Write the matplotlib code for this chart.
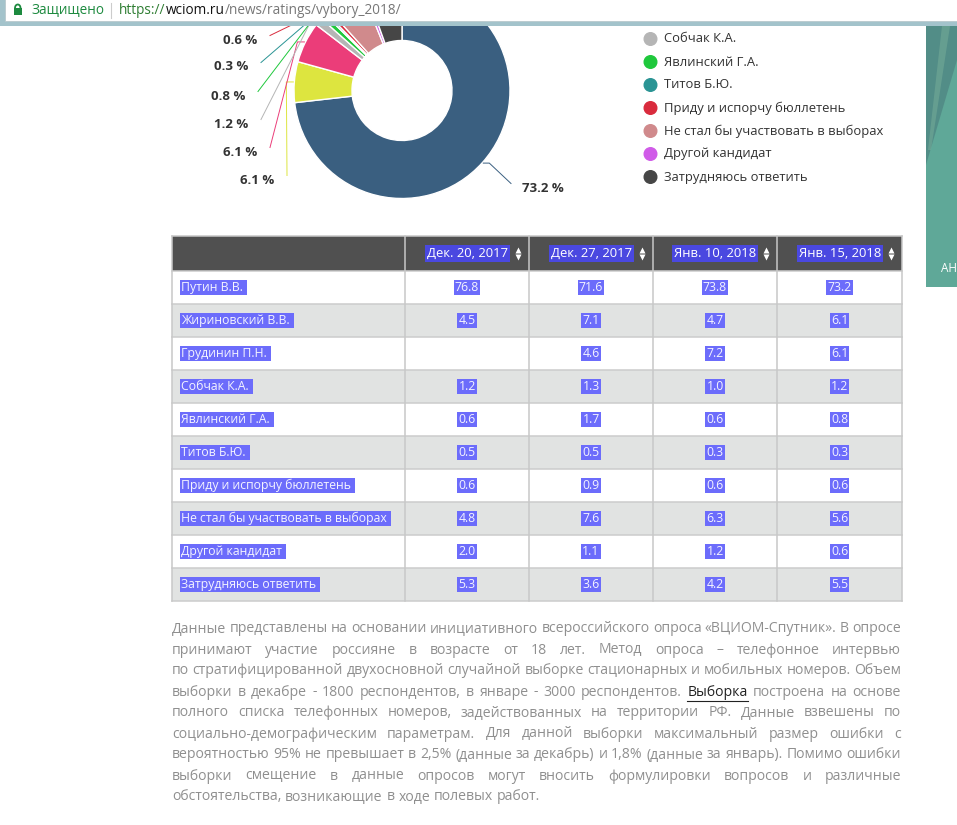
import matplotlib
matplotlib.use("Agg")
import matplotlib.pyplot as plt
import numpy as np
from matplotlib.patches import Rectangle, Circle, Polygon, Arc

plt.rcParams['font.family'] = ['Open Sans', 'DejaVu Sans']

# ---- data ----
rows = ["Путин В.В.", "Жириновский В.В.", "Грудинин П.Н.", "Собчак К.А.",
        "Явлинский Г.А.", "Титов Б.Ю.", "Приду и испорчу бюллетень",
        "Не стал бы участвовать в выборах", "Другой кандидат",
        "Затрудняюсь ответить"]
dates = ["Дек. 20, 2017", "Дек. 27, 2017", "Янв. 10, 2018", "Янв. 15, 2018"]
dec20 = [76.8, 4.5, None, 1.2, 0.6, 0.5, 0.6, 4.8, 2.0, 5.3]
dec27 = [71.6, 7.1, 4.6, 1.3, 1.7, 0.5, 0.9, 7.6, 1.1, 3.6]
jan10 = [73.8, 4.7, 7.2, 1.0, 0.6, 0.3, 0.6, 6.3, 1.2, 4.2]
jan15 = [73.2, 6.1, 6.1, 1.2, 0.8, 0.3, 0.6, 5.6, 0.6, 5.5]
colors = ["#3a5f80", "#dde53f", "#eb3d79", "#b5b5b5", "#1fc83c", "#2a9494",
          "#d92b3d", "#d08a8c", "#d05be8", "#464646"]

paragraph = [
    "Данные представлены на основании инициативного всероссийского опроса «ВЦИОМ-Спутник». В опросе",
    "принимают участие россияне в возрасте от 18 лет. Метод опроса – телефонное интервью",
    "по стратифицированной двухосновной случайной выборке стационарных и мобильных номеров. Объем",
    "выборки в декабре - 1800 респондентов, в январе - 3000 респондентов. Выборка построена на основе",
    "полного списка телефонных номеров, задействованных на территории РФ. Данные взвешены по",
    "социально-демографическим параметрам. Для данной выборки максимальный размер ошибки с",
    "вероятностью 95% не превышает в 2,5% (данные за декабрь) и 1,8% (данные за январь). Помимо ошибки",
    "выборки смещение в данные опросов могут вносить формулировки вопросов и различные",
    "обстоятельства, возникающие в ходе полевых работ.",
]

# ---- layout (pixels) ----
W, H = 957, 825
CX, CY, R, HOLE = 402, 90.5, 108, 50
# (slice index, label x, label y); left side labels are right-aligned
label_pos = [(0, 522, 188), (1, 274, 180), (2, 257, 152), (3, 248, 124),
             (4, 245, 96), (5, 248, 67), (6, 257, 40)]
col_x = [172, 405, 529, 653, 777, 902]
head_top, head_h, row_h = 236, 35, 33
BAR_H = 26

fig = plt.figure(figsize=(W / 100, H / 100), dpi=100)
ax = fig.add_axes([0, 0, 1, 1])
renderer = fig.canvas.get_renderer()


def width_of(t):
    return t.get_window_extent(renderer).width


# ---- donut ----
wedges, _ = ax.pie(jan15, colors=colors, radius=R, center=(CX, CY),
                   startangle=270, counterclock=True,
                   wedgeprops=dict(width=R - HOLE, edgecolor="white", linewidth=1))
ax.set_xlim(0, W)
ax.set_ylim(H, 0)
ax.set_aspect("auto")
ax.axis("off")
for w in wedges:
    w.set_zorder(1)

for idx, lx, ly in label_pos:
    w = wedges[idx]
    mid = np.radians((w.theta1 + w.theta2) / 2)
    ax_, ay_ = CX + (R + 1) * np.cos(mid), CY + (R + 1) * np.sin(mid)
    if lx > CX:
        ex, sx, ha = ax_ + 6, lx - 11, "left"
    else:
        ex, sx, ha = ax_ - 7, lx + 13, "right"
    ax.plot([ax_, ex, sx], [ay_, ay_, ly - 4.5], color=colors[idx], lw=0.7,
            zorder=1)
    ax.text(lx, ly, f"{jan15[idx]} %", ha=ha, va="center", fontsize=9.5,
            fontweight="bold", color="#333333", zorder=2)

# ---- legend (top entries are hidden under the address bar) ----
for i, (name, c) in enumerate(zip(rows, colors)):
    y = 39 + 23 * (i - 3)
    if y < BAR_H:
        continue
    ax.add_patch(Circle((650.5, y), 6.3, color=c, zorder=2))
    ax.text(664, y, name, ha="left", va="center", fontsize=9.4,
            color="#333333", zorder=2)

# ---- table ----
ax.add_patch(Rectangle((col_x[0], head_top), col_x[-1] - col_x[0], head_h,
                       facecolor="#505050", edgecolor="none", zorder=1))
body_top = head_top + head_h
for r in range(len(rows)):
    fc = "white" if r % 2 == 0 else "#e1e3e2"
    ax.add_patch(Rectangle((col_x[0], body_top + r * row_h),
                           col_x[-1] - col_x[0], row_h, facecolor=fc,
                           edgecolor="none", zorder=1))
bottom = body_top + len(rows) * row_h
for r in range(len(rows) + 1):
    y = body_top + r * row_h
    ax.plot([col_x[0], col_x[-1]], [y, y], color="#cccccc", lw=1.1, zorder=2)
for x in col_x:
    ax.plot([x, x], [head_top, bottom], color="#c8c8c8", lw=1.1, zorder=2)
ax.plot([col_x[0], col_x[-1]], [head_top, head_top], color="#c8c8c8", lw=1.1,
        zorder=2)

hy = head_top + head_h / 2
for j, d in enumerate(dates):
    right = col_x[j + 2]
    ax.text(right - 21, hy, d, ha="right", va="center", fontsize=9.4,
            color="white", zorder=3,
            bbox=dict(boxstyle="square,pad=0.12", facecolor="#4a48e0",
                      edgecolor="none"))
    ax.plot([right - 11], [hy - 3.6], marker="^", ms=4.6, color="white",
            mec="none", zorder=3)
    ax.plot([right - 11], [hy + 3.8], marker="v", ms=4.6, color="white",
            mec="none", zorder=3)

sel = dict(boxstyle="square,pad=0.08", facecolor="#6c6cfb", edgecolor="none")
for r, name in enumerate(rows):
    y = body_top + r * row_h + row_h / 2
    ax.text(181, y, name + " ", ha="left", va="center", fontsize=8.8,
            color="#f4f4ff", zorder=3, bbox=sel)
    for j, series in enumerate([dec20, dec27, jan10, jan15]):
        v = series[r]
        if v is None:
            continue
        xc = (col_x[j + 1] + col_x[j + 2]) / 2
        ax.text(xc, y, f"{v:.1f}", ha="center", va="center", fontsize=8.8,
                color="#f4f4ff", zorder=3, bbox=sel)

# ---- paragraph (justified) ----
px0, px1 = 172, 901
PT = 10.05
for i, line in enumerate(paragraph):
    y = 629 + 21 * i
    words = line.split()
    objs = [ax.text(px0, y, wd, ha="left", va="center", fontsize=PT,
                    color="#8f8f8f", zorder=3) for wd in words]
    widths = [width_of(o) for o in objs]
    last = i == len(paragraph) - 1
    gap = 3.8 if last else (px1 - px0 - sum(widths)) / (len(words) - 1)
    x = px0
    for o, wd, ww in zip(objs, words, widths):
        o.set_x(x)
        if wd == "Выборка":
            o.set_color("#222222")
            ax.plot([x, x + ww], [y + 8.5, y + 8.5], color="#222222", lw=0.8,
                    zorder=3)
        x += ww + gap

# ---- right side panel ----
ax.add_patch(Rectangle((926, BAR_H), 31, 261, facecolor="#5fa898",
                       edgecolor="none", zorder=1))
ax.add_patch(Polygon([(926, BAR_H), (957, BAR_H), (957, 60), (926, 165)],
                     closed=True, facecolor="#4f8783", edgecolor="none",
                     alpha=0.8, zorder=1))
ax.add_patch(Polygon([(942, BAR_H), (950, BAR_H), (931, 150), (928, 150)],
                     closed=True, facecolor="#84b89f", edgecolor="none",
                     alpha=0.4, zorder=1))
ax.text(941, 268, "АН", ha="left", va="center", fontsize=8.5, color="white",
        zorder=2)

# ---- browser address bar ----
ax.add_patch(Rectangle((0, 0), W, BAR_H, facecolor="#a3c3cb",
                       edgecolor="none", zorder=5))
ax.add_patch(Rectangle((5, -3), W, 24, facecolor="white", edgecolor="#b8c8cc",
                       lw=0.6, zorder=6))
green = "#1d8a3f"
ax.add_patch(Rectangle((13.5, 8), 8.5, 7, facecolor=green, edgecolor="none",
                       zorder=7))
ax.add_patch(Arc((17.75, 8), 5.5, 7, theta1=180, theta2=360, color=green,
                 lw=1.3, zorder=7))
ax.text(31, 10.5, "Защищено", ha="left", va="center", fontsize=9.8,
        color=green, zorder=7)
ax.plot([111, 111], [3, 18], color="#cccccc", lw=0.8, zorder=7)
x = 119
for part, c in [("https://", "#2e7d32"), ("wciom.ru", "#111111"),
                ("/news/ratings/vybory_2018/", "#777777")]:
    t = ax.text(x, 10.5, part, ha="left", va="center", fontsize=9.8,
                color=c, zorder=7)
    x += width_of(t)

fig.savefig("out.png", dpi=100, facecolor="white")
